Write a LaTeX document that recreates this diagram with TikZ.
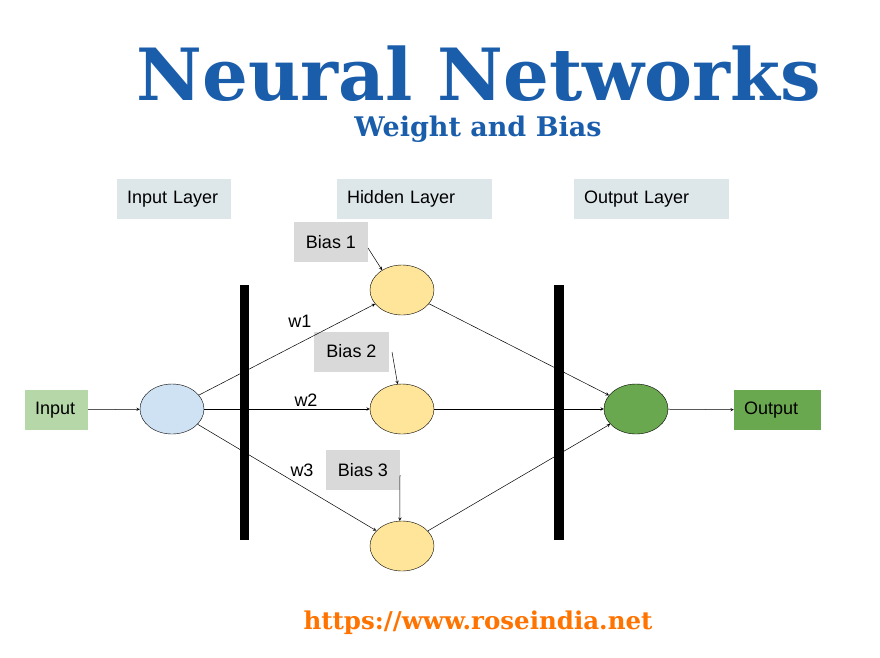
\documentclass[tikz,border=0pt]{standalone}
\usetikzlibrary{shapes.geometric}
\usepackage{fontspec}
\setmainfont{Liberation Sans}
\newfontfamily\slab{DejaVu Serif}
\begin{document}
\begin{tikzpicture}[x=1pt,y=-1pt,
  lab/.style={fill=#1,minimum height=40pt,inner sep=0pt,font=\fontsize{18}{21}\selectfont},
  neu/.style={draw,fill=#1,ellipse,minimum width=64pt,minimum height=50pt,inner sep=0pt},
  arr/.style={-stealth,line width=0.5pt},
  bar/.style={fill=black}]
\useasboundingbox (0,0) rectangle (880,657);
\definecolor{tb}{HTML}{1A5DAB}
\node[font=\slab\bfseries\fontsize{72}{76}\selectfont,text=tb,inner sep=0pt] (t) at (479,74) {Neural Networks};
\node[font=\slab\bfseries\fontsize{27}{30}\selectfont,text=tb,inner sep=0pt] (st) at (478,129) {Weight and Bias};
\node[font=\slab\bfseries\fontsize{24.5}{28}\selectfont,text=orange!90!red] (url) at (478,623) {https://www.roseindia.net};
\definecolor{lay}{HTML}{DDE7EA}
\definecolor{bia}{HTML}{D9D9D9}
\definecolor{hid}{HTML}{FFE599}
\definecolor{inb}{HTML}{CFE2F3}
\definecolor{lg}{HTML}{B6D7A8}
\definecolor{dg}{HTML}{6AA84F}
\node[lab=lay,minimum width=114pt,text width=94pt,align=left] (il) at (174,199) {Input Layer};
\node[lab=lay,minimum width=155pt,text width=135pt,align=left] (hl) at (414.5,199) {Hidden Layer};
\node[lab=lay,minimum width=155pt,text width=135pt,align=left] (ol) at (651.5,199) {Output Layer};
\node[lab=bia,minimum width=74pt] (b1) at (331,242) {Bias 1};
\node[lab=bia,minimum width=75pt] (b2) at (351.5,351.5) {Bias 2};
\node[lab=bia,minimum width=74pt] (b3) at (363,470) {Bias 3};
\node[lab=lg,minimum width=63pt,text width=43pt,align=left] (in) at (56.5,410) {Input};
\node[lab=dg,minimum width=87pt,text width=67pt,align=left] (out) at (777.5,410) {Output};
\node[neu=inb] (n0) at (172,409) {};
\node[neu=hid] (h1) at (402,290) {};
\node[neu=hid] (h2) at (402,409) {};
\node[neu=hid] (h3) at (402,546) {};
\node[neu=dg] (o) at (636,409) {};
\draw[arr] (in) -- (n0);
\draw[arr] (n0) -- (h1);
\draw[arr] (n0) -- (h2);
\draw[arr] (n0) -- (h3);
\draw[arr] (h1) -- (o);
\draw[arr] (h2) -- (o);
\draw[arr] (h3) -- (o);
\draw[arr] (o) -- (out);
\coordinate (b1s) at (368,248);
\coordinate (b2s) at (392,352);
\coordinate (b3s) at (400,475);
\draw[arr] (b1s) -- (h1.135);
\draw[arr] (b2s) -- (h2.100);
\draw[arr] (b3s) -- (h3.95);
\fill[bar] (240,285) rectangle (249,540);
\fill[bar] (554,285) rectangle (564,540);
\node[font=\fontsize{18}{21}\selectfont] (w1) at (300,321) {w1};
\node[font=\fontsize{18}{21}\selectfont] (w2) at (306,400) {w2};
\node[font=\fontsize{18}{21}\selectfont] (w3) at (302,470) {w3};
\end{tikzpicture}
\end{document}
